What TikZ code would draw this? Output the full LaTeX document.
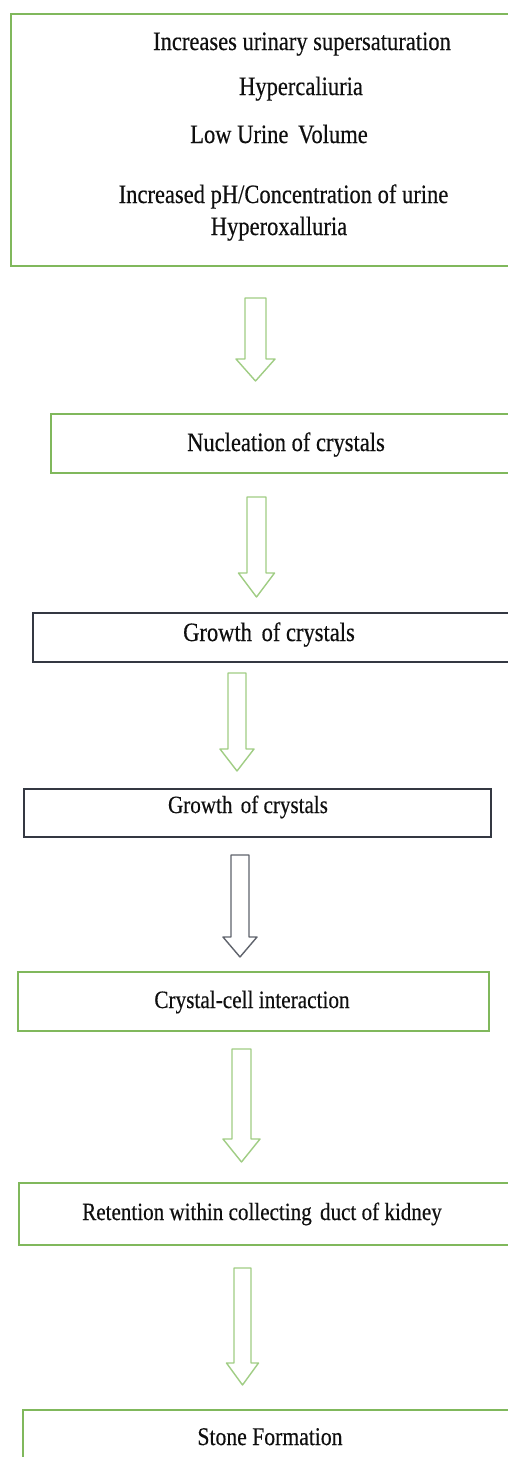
\documentclass[tikz,border=0pt]{standalone}
\usepackage{fontspec}
\setmainfont[FakeStretch=0.85,FakeBold=0.4]{Liberation Serif}
\definecolor{boxgreen}{RGB}{128,184,92}
\definecolor{arrgreen}{RGB}{160,205,132}
\definecolor{boxdark}{RGB}{52,56,66}
\definecolor{arrgray}{RGB}{95,99,108}
\definecolor{txt}{RGB}{15,15,15}
\newcommand\bkarrow[7]{%
  \draw[#7] (#1-#5,#2) -- (#1+#5,#2) -- (#1+#5,#3) -- (#1+#6,#3) -- (#1,#4) -- (#1-#6,#3) -- (#1-#5,#3) -- cycle;}
\begin{document}
\begin{tikzpicture}[x=1pt,y=-1pt,
  gbox/.style={draw=boxgreen,line width=1.6pt,rectangle,inner sep=0pt,outer sep=0pt},
  dbox/.style={draw=boxdark,line width=1.6pt,rectangle,inner sep=0pt,outer sep=0pt},
  lbl/.style={anchor=base,inner sep=0pt,text=txt,font=\fontsize{26.5}{30}\selectfont},
  garr/.style={draw=arrgreen,line width=1.4pt,line join=round},
  darr/.style={draw=arrgray,line width=1.4pt,line join=round}]
\clip (0,0) rectangle (508,1457);
\fill[white] (0,0) rectangle (508,1457);
% boxes
\node[gbox,minimum width=509pt,minimum height=252pt] (b1) at (265.5,140) {};
\node[gbox,minimum width=469pt,minimum height=59pt] (b2) at (285.5,443.5) {};
\node[dbox,minimum width=487pt,minimum height=49pt] (b3) at (276.5,637.5) {};
\node[dbox,minimum width=467pt,minimum height=48pt] (b4) at (257.5,813) {};
\node[gbox,minimum width=471pt,minimum height=59pt] (b5) at (253.5,1001.5) {};
\node[gbox,minimum width=501pt,minimum height=62pt] (b6) at (269.5,1214) {};
\node[gbox,minimum width=497pt,minimum height=70pt] (b7) at (271.5,1445) {};
% texts
\node[lbl] (t1) at (302,50) {Increases urinary supersaturation};
\node[lbl] (t2) at (301,95) {Hypercaliuria};
\node[lbl] (t3) at (279,143) {Low Urine\hspace{4pt} Volume};
\node[lbl] (t4) at (283.5,203) {Increased pH/Concentration of urine};
\node[lbl] (t5) at (279,235) {Hyperoxalluria};
\node[lbl] (t6) at (286,451) {Nucleation of crystals};
\node[lbl] (t7) at (269,641) {Growth\hspace{4pt} of crystals};
\node[lbl,font=\fontsize{24.8}{28}\selectfont] (t8) at (248,813) {Growth\hspace{3pt} of crystals};
\node[lbl,font=\fontsize{25}{28}\selectfont] (t9) at (252,1008) {Crystal-cell interaction};
\node[lbl,font=\fontsize{24.8}{28}\selectfont] (t10) at (262,1220) {Retention within collecting\hspace{3pt} duct of kidney};
\node[lbl,font=\fontsize{25.5}{28}\selectfont] (t11) at (270,1445) {Stone Formation};
% block arrows
\bkarrow{255.5}{298}{359}{381}{10.5}{19.5}{garr}
\bkarrow{256.5}{497}{573}{597}{9.5}{18}{garr}
\bkarrow{237}{673}{749}{771}{9}{17}{garr}
\bkarrow{240}{855}{937}{957}{9}{17}{darr}
\bkarrow{241.5}{1049}{1139}{1162}{9.5}{18.5}{garr}
\bkarrow{242.5}{1268}{1363}{1385}{8.5}{16}{garr}
\end{tikzpicture}
\end{document}
